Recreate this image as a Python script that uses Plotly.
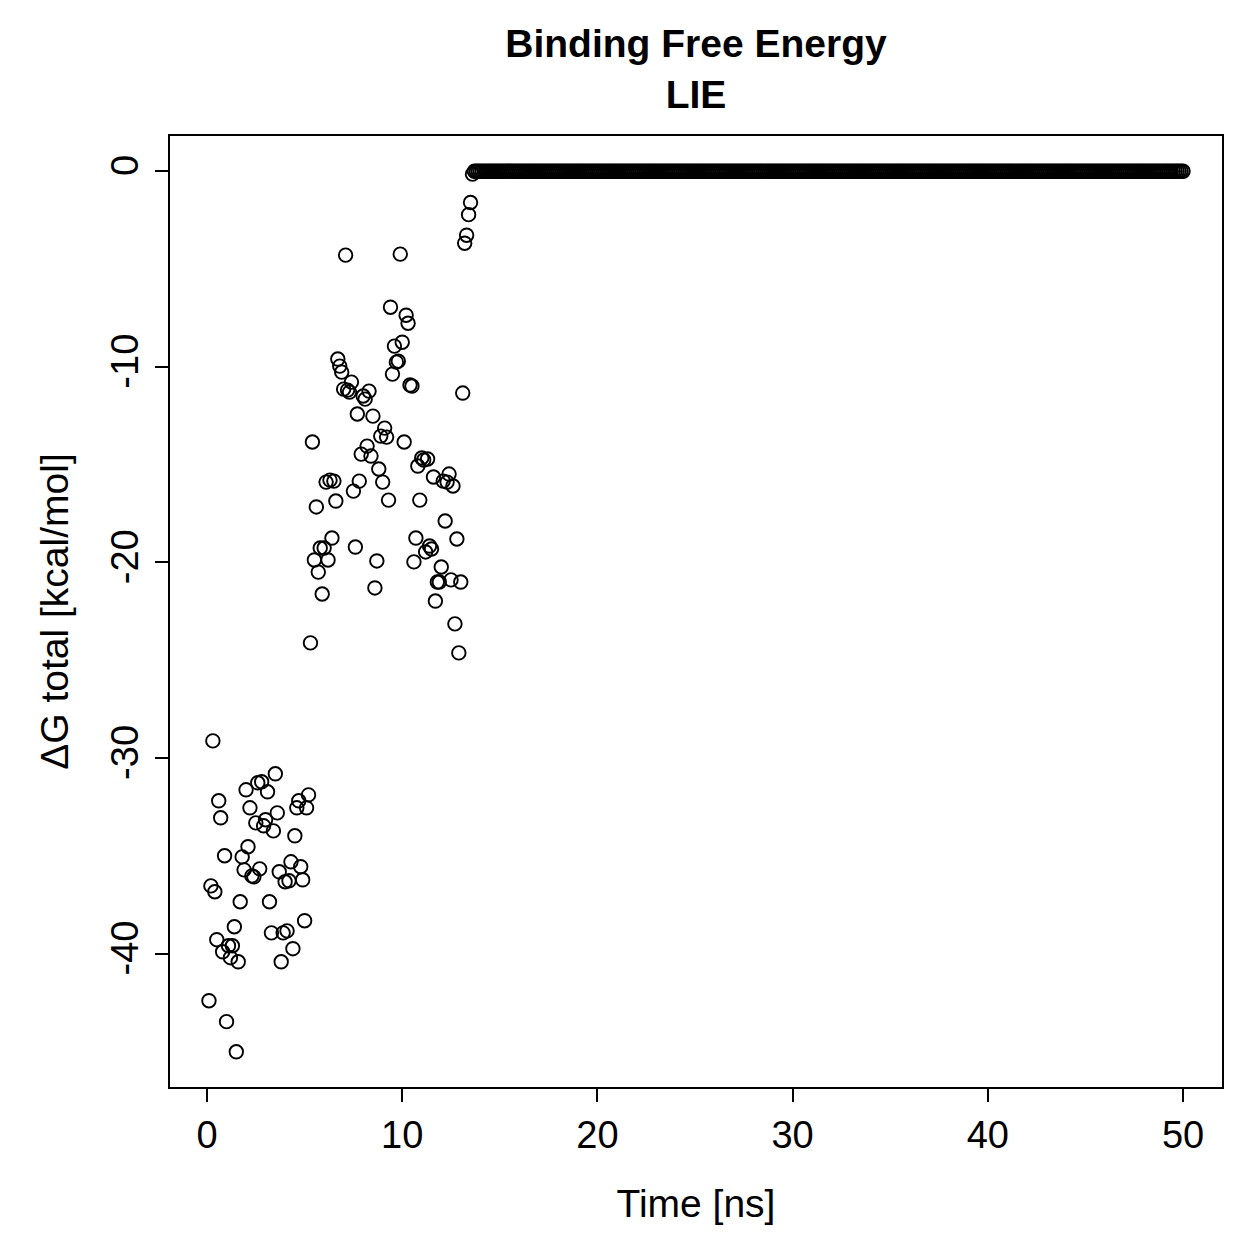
import numpy as np
import plotly.graph_objects as go

# Time step of the trajectory (ns) and number of frames
time_step = 0.1
n_frames = 500

# dG values (kcal/mol), frame by frame
dg_phase1 = [-42.40, -36.53, -29.12, -36.83, -39.28, -32.18, -33.05, -39.90, -34.99, -43.47,
             -39.59, -40.20, -39.59, -38.62, -45.01, -40.41, -37.34, -35.05, -35.71, -31.62,
             -34.53, -32.54, -36.02, -36.07, -33.31, -31.26, -35.66, -31.21, -33.46, -33.15,
             -31.72, -37.34, -38.93, -33.72, -30.80, -32.80, -35.81, -40.41, -38.93, -36.32,
             -38.83, -36.27, -35.30, -39.74, -33.97, -32.54, -32.18, -35.55, -36.22, -38.31,
             -32.54, -31.88]
dg_phase2 = [-24.11, -13.84, -19.87, -17.16, -20.49, -19.26, -21.61, -19.26, -15.89, -19.87,
             -15.79, -18.75, -15.84, -16.86, -9.60, -9.96, -10.27, -11.14, -4.29, -11.19,
             -11.29, -10.78, -16.35, -19.21, -12.41, -15.84, -14.46, -11.49, -11.65, -14.05,
             -11.24, -14.56, -12.52, -21.30, -19.92, -15.22, -13.54, -15.89, -13.13, -13.59,
             -16.81, -6.95, -10.37, -8.94, -9.76, -9.71, -4.24, -8.74, -13.84, -7.36,
             -7.77, -10.93, -10.98, -19.97, -18.75, -15.07, -16.81, -14.66, -14.76, -19.46,
             -14.71, -19.16, -19.31, -15.63, -21.97, -21.00, -21.00, -20.23, -15.84, -17.88,
             -15.89, -15.48, -20.89, -16.09, -23.14, -18.80, -24.62, -21.00, -11.34]
dg_transition = [-3.68, -3.27, -2.22, -1.60, -0.15]
n_unbound = n_frames - len(dg_phase1) - len(dg_phase2) - len(dg_transition)
dg_unbound = [0.0] * n_unbound

dg_total = dg_phase1 + dg_phase2 + dg_transition + dg_unbound
time_ns = np.round(np.arange(1, n_frames + 1) * time_step, 1)

x_ticks = [0, 10, 20, 30, 40, 50]
x_ticktext = ["0", "10", "20", "30", "40", "50"]
y_ticks = [0, -10, -20, -30, -40]
y_ticktext = ["0", "-10", "-20", "-30", "-40"]

FONT = "Liberation Sans, Arial, Helvetica, sans-serif"

fig = go.Figure()
fig.add_trace(go.Scatter(
    x=time_ns, y=dg_total, mode="markers",
    marker=dict(symbol="circle-open", size=13.5, color="black", line=dict(width=1.9, color="black")),
    showlegend=False,
))

xmin, xmax = float(min(time_ns)), float(max(time_ns))
ymin, ymax = float(min(dg_total)), float(max(dg_total))
xpad = 0.04 * (xmax - xmin)
ypad = 0.04 * (ymax - ymin)

axis_common = dict(
    showgrid=False, zeroline=False, showline=True, mirror=True,
    linecolor="black", linewidth=2.2, ticks="outside", ticklen=13, tickwidth=2,
    tickcolor="black", tickfont=dict(family=FONT, size=38, color="black"),
)

fig.update_layout(
    width=1259, height=1259,
    margin=dict(l=170, r=37, t=136, b=172),
    paper_bgcolor="white", plot_bgcolor="white",
    font=dict(family=FONT, color="black"),
    title=dict(text="<b>Binding Free Energy</b><br><b>LIE</b>", x=0.5, xref="paper",
               y=1 - 57 / 1259, yref="container", yanchor="middle", xanchor="center",
               font=dict(family=FONT, size=39, color="black")),
    xaxis=dict(range=[xmin - xpad, xmax + xpad], tickvals=x_ticks, ticktext=x_ticktext,
               title=dict(text="Time [ns]", font=dict(family=FONT, size=39), standoff=35),
               ticklabelstandoff=0, **axis_common),
    yaxis=dict(range=[ymin - ypad, ymax + ypad], tickvals=y_ticks, ticktext=y_ticktext,
               tickangle=-90,
               title=dict(text="ΔG total [kcal/mol]", font=dict(family=FONT, size=39), standoff=23),
               ticklabelstandoff=2, **axis_common),
)

fig.write_html("out.html")
